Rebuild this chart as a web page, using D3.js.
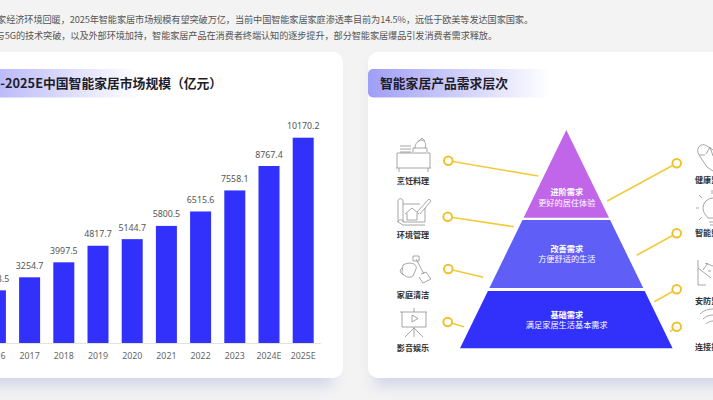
<!DOCTYPE html>
<html>
<head>
<meta charset="utf-8">
<script src="https://cdn.jsdelivr.net/npm/d3@7"></script>
<style>
html, body { margin: 0; padding: 0; background: #f3f3f3; overflow: hidden; }
svg { display: block; font-family: "Noto Sans CJK SC", "Noto Sans", sans-serif; }
</style>
</head>
<body>
<svg width="713" height="400"></svg>
<script>
const introLines = [
  "随着国家经济环境回暖，2025年智能家居市场规模有望突破万亿，当前中国智能家居家庭渗透率目前为14.5%，远低于欧美等发达国家国家。",
  "物联网、人工智能与5G的技术突破，以及外部环境加持，智能家居产品在消费者终端认知的逐步提升，部分智能家居爆品引发消费者需求释放。"
];
const years = ["2016", "2017", "2018", "2019", "2020", "2021", "2022", "2023", "2024E", "2025E"];
const marketSize = [2608.5, 3254.7, 3997.5, 4817.7, 5144.7, 5800.5, 6515.6, 7558.1, 8767.4, 10170.2];
const layerNames = ["进阶需求", "改善需求", "基础需求"];
const layerNotes = ["更好的居住体验", "方便舒适的生活", "满足家居生活基本需求"];
const leftNeeds = ["烹饪料理", "环境管理", "家庭清洁", "影音娱乐"];
const rightNeeds = ["健康监测", "智能照明", "安防监控", "连接控制"];

const svg = d3.select("svg");
const defs = svg.append("defs");
defs.append("filter").attr("id", "soft").attr("x", "-10%").attr("y", "-10%").attr("width", "120%").attr("height", "125%")
  .append("feGaussianBlur").attr("stdDeviation", 7);

function bandGradient(id, from) {
  const g = defs.append("linearGradient").attr("id", id);
  g.append("stop").attr("offset", 0).attr("stop-color", from);
  g.append("stop").attr("offset", 1).attr("stop-color", "#fff");
}
bandGradient("band", "#9f9ef6");

svg.append("g").selectAll("text").data(introLines).join("text")
  .attr("x", (d, i) => i ? 497 : 533)
  .attr("y", (d, i) => i ? 39 : 22.5)
  .attr("text-anchor", "end")
  .attr("font-size", 9.2)
  .attr("letter-spacing", -0.11)
  .attr("fill", "#555")
  .text(d => d);

// cards
function card(x, w) {
  svg.append("rect").attr("x", x + 6).attr("y", 64).attr("width", w - 16).attr("height", 322)
    .attr("fill", "#c9cae6").attr("opacity", .75).attr("filter", "url(#soft)");
  svg.append("rect").attr("x", x).attr("y", 52).attr("width", w).attr("height", 326).attr("rx", 10).attr("fill", "#fff");
}
card(-40, 383);
card(368, 385);

function title(x, w, r, text, tx) {
  svg.append("rect").attr("x", x).attr("y", 69).attr("width", w).attr("height", 28.5).attr("rx", r).attr("fill", "url(#band)");
  svg.append("text").attr("x", tx).attr("y", 88).attr("font-size", 12.8).attr("font-weight", 700).attr("fill", "#1d1d2a").text(text);
}
title(-60, 200, 5, "2016-2025E中国智能家居市场规模（亿元）", -30);
title(368, 182, 5, "智能家居产品需求层次", 380);

// bars
const x = d3.scaleBand().domain(years).range([-21.7, 320.3]).paddingInner(.386).paddingOuter(.193);
const y = d3.scaleLinear().domain([0, d3.max(marketSize)]).range([343, 137.7]);
const rows = years.map((year, i) => ({ year, value: marketSize[i] }));

svg.append("g").selectAll("rect").data(rows).join("rect")
  .attr("x", d => x(d.year))
  .attr("y", d => y(d.value))
  .attr("width", x.bandwidth())
  .attr("height", d => y(0) - y(d.value))
  .attr("fill", "#3131fb");

svg.append("g").selectAll("text").data(rows).join("text")
  .attr("x", d => x(d.year) + x.bandwidth() / 2)
  .attr("y", d => y(d.value) - 8.5)
  .attr("text-anchor", "middle")
  .attr("font-family", "Noto Sans")
  .attr("font-size", 8.8)
  .attr("fill", "#555")
  .text(d => d.value.toFixed(1));

const axis = svg.append("g").attr("transform", "translate(0,343)").call(d3.axisBottom(x).tickSize(0).tickPadding(10));
axis.select(".domain").attr("stroke", "#e2e2e2");
axis.selectAll("text").attr("font-family", "Noto Sans").attr("font-size", 8.8).attr("fill", "#666");

// pyramid, layers top to bottom
const apexX = 566.3;
const py = d3.scaleLinear().domain([130, 348.3]).range([0, 106.3]);
const layers = [
  { top: 130, bottom: 217.7, fill: "#c166e9", ty: 195 },
  { top: 220, bottom: 288, fill: "#5f5ef7", ty: 251.5 },
  { top: 291, bottom: 348.3, fill: "#3131fb", ty: 317.5 }
];
layers.forEach((l, i) => {
  const a = py(l.top), b = py(l.bottom);
  svg.append("polygon")
    .attr("points", [[apexX - a, l.top], [apexX + a, l.top], [apexX + b, l.bottom], [apexX - b, l.bottom]].join(" "))
    .attr("fill", l.fill);
  svg.append("text").attr("x", apexX + .5).attr("y", l.ty).attr("text-anchor", "middle")
    .attr("font-size", 8.2).attr("font-weight", 700).attr("fill", "#fff").text(layerNames[i]);
  svg.append("text").attr("x", apexX + .5).attr("y", l.ty + 10.5).attr("text-anchor", "middle")
    .attr("font-size", 8.2).attr("fill", "#fff").text(layerNotes[i]);
});

// leader lines
const leaders = [
  [448.3, 160.7, 538.3, 176], [447.7, 216.7, 514, 226.7], [448.3, 269, 483.3, 277.3], [447.7, 322, 464, 326.7],
  [676.7, 163.3, 607.3, 201], [676.7, 233.3, 636.7, 255.3], [676.7, 289.3, 654.3, 301.7], [676.7, 326.7, 670, 331.7]
];
svg.append("g").selectAll("line").data(leaders).join("line")
  .attr("x1", d => d[0]).attr("y1", d => d[1]).attr("x2", d => d[2]).attr("y2", d => d[3])
  .attr("stroke", "#f2cb3a").attr("stroke-width", 1.6);
svg.append("g").selectAll("circle").data(leaders).join("circle")
  .attr("cx", d => d[0]).attr("cy", d => d[1]).attr("r", 4.3)
  .attr("fill", "#fff").attr("stroke", "#eec22c").attr("stroke-width", 2);

// need labels
svg.append("g").selectAll("text").data(leftNeeds).join("text")
  .attr("x", 413).attr("y", (d, i) => [183.5, 237.5, 297.5, 351][i])
  .attr("text-anchor", "middle").attr("font-size", 8.1).attr("font-weight", 700).attr("fill", "#333").text(d => d);
svg.append("g").selectAll("text").data(rightNeeds).join("text")
  .attr("x", 695).attr("y", (d, i) => [182.5, 236, 303.5, 350][i])
  .attr("font-size", 8.1).attr("font-weight", 700).attr("fill", "#333").text(d => d);

// line icons
const icons = [
  "M397 168V153H430V168M396 168H431M399 168V172M428 168V172M400 146H411M400 149H411M400 152H411M413 152V148H427V152M415 148C415 143 419 140 421 140C424 140 427 143 425 148M418 142L422 138L425 141",
  "M398 201C398 198 403 198 403 201V222C403 219 398 219 398 222ZM403 204H420M403 222H425V208M398 222L403 225H425M405 214L412 208L419 214M407 213V220H417V213M417 212L429 199L431 201L420 214",
  "M403 265C410 261 418 264 416 269L413 276C409 279 403 276 402 272ZM402 268C399 270 400 274 404 275M416 259L424 274M413 256H419V261H413ZM421 274L426 272L431 279L423 283L419 277",
  "M400 312H427M402 312V327H426V312M412 315V322L418 318.500ZM414 308V312M414 327V337M414 328L405 337M414 328L423 337",
  "M706 154L710 147L713 156M699 155C695 148 701 142 707 146L713 150M699 155L707 167L713 171M699 155H705",
  "M713 198A10 10 0 0 0 703 208C703 213 706 215 708 218H713M709 222H713M710 225H713M712 190V194M699 195L702 198M696 208H699M699 220L702 217",
  "M698 260V285M698 268L711 278M698 285H706M705 263L713 266M703 270L708 263M708 271H711",
  "M700 314C704 310 709 309 713 309M703 319C706 316 710 315 713 315M706 324C708 322 711 321 713 321"
];
svg.append("g").selectAll("path").data(icons).join("path")
  .attr("d", d => d).attr("fill", "none").attr("stroke", "#8f8f8f").attr("stroke-width", .8);
</script>
</body>
</html>
